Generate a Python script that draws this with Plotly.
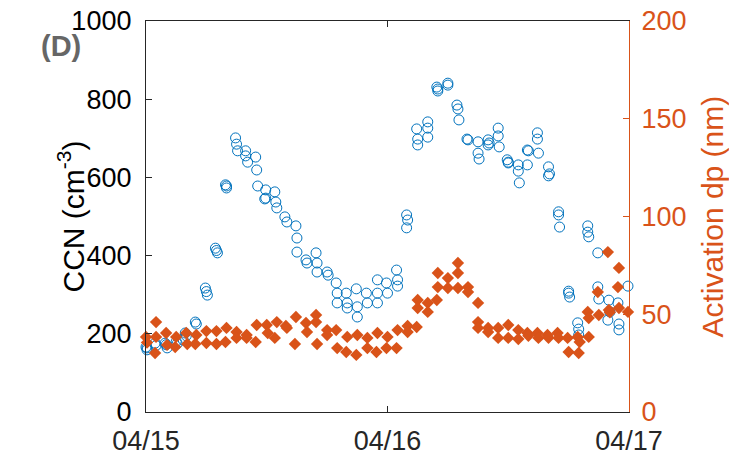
import pandas as pd
import plotly.graph_objects as go

start = pd.Timestamp("2021-04-15")

# CCN (cm-3) – hours after 04/15 00:00
ccn_hours = [0.0, 0.1, 0.1, 0.9, 1.0, 1.9, 2.0, 2.1, 3.0, 3.1, 3.7, 3.9, 4.0, 4.9, 5.0,
             5.9, 6.0, 6.1, 6.9, 7.0, 7.1, 7.9, 8.0, 8.0, 8.9, 9.0, 9.1, 9.9, 9.9, 10.1,
             10.9, 11.0, 11.1, 11.8, 11.9, 11.9, 12.8, 12.9, 13.0, 13.8, 14.0, 14.9, 15.0, 15.0,
             15.9, 16.0, 16.9, 17.0, 17.0, 18.0, 18.1, 18.9, 19.0, 19.0, 19.9, 20.0, 20.0,
             20.9, 21.0, 21.0, 21.9, 22.0, 23.0, 23.0, 23.0, 23.9, 24.0, 24.9, 25.0, 25.0,
             25.9, 25.9, 26.0, 26.9, 27.0, 27.0, 28.0, 28.0, 28.0, 28.9, 29.0, 29.0, 30.0, 30.0,
             30.9, 31.0, 31.1, 31.9, 32.0, 33.0, 33.0, 33.1, 34.0, 34.0, 34.1, 35.0, 35.0, 35.1,
             35.9, 36.0, 36.0, 37.0, 37.0, 37.1, 37.9, 37.9, 38.0, 38.9, 38.9, 39.0,
             40.0, 40.0, 40.1, 41.0, 41.0, 41.1, 42.0, 42.0, 42.1, 42.9, 43.0, 43.0,
             43.9, 43.9, 44.0, 44.9, 44.9, 45.0, 45.9, 46.0, 46.1, 46.9, 47.0, 47.0, 47.9]
ccn_values = [166, 159, 164, 176, 170, 176, 172, 164, 180, 175, 184, 202, 195, 230, 225,
              317, 308, 299, 419, 413, 407, 581, 578, 573, 701, 685, 668, 668, 655, 639,
              652, 619, 578, 545, 568, 547, 563, 537, 522, 499, 486, 476, 445, 409,
              389, 381, 407, 381, 358, 358, 350, 330, 304, 279, 304, 279, 266,
              315, 269, 243, 304, 279, 338, 304, 279, 330, 304, 363, 338, 322,
              504, 471, 491, 724, 698, 683, 742, 726, 703, 831, 821, 826, 841, 836,
              785, 775, 747, 698, 696, 691, 662, 647, 696, 683, 688, 726, 706, 678,
              645, 639, 637, 632, 616, 586, 632, 670, 668, 714, 698, 662,
              627, 604, 609, 512, 504, 473, 309, 304, 294, 228, 212, 197,
              476, 460, 448, 407, 320, 289, 235, 286, 256, 279, 225, 210, 322]

# Activation dp (nm)
dp_hours = [0.0, 0.1, 0.9, 1.0, 1.0, 2.0, 2.1, 2.9, 3.0, 4.0, 4.1, 4.9, 5.0, 6.0, 6.0,
            7.0, 7.0, 7.9, 8.0, 9.0, 9.0, 10.0, 10.0, 10.9, 11.0, 12.0, 12.1, 12.8, 13.0,
            13.9, 14.0, 14.8, 14.9, 15.9, 16.0, 16.9, 16.9, 17.0, 18.0, 18.0, 18.9, 19.0,
            19.9, 20.0, 20.9, 21.0, 22.0, 22.0, 22.9, 23.0, 23.9, 24.0, 24.9, 25.0, 26.0, 26.0,
            26.9, 27.0, 27.0, 28.0, 28.0, 28.9, 29.0, 29.0, 30.0, 30.0, 31.0, 31.0, 31.0,
            32.0, 32.0, 33.0, 33.0, 33.0, 34.0, 34.0, 35.0, 35.0, 36.0, 36.0, 37.0, 37.0,
            37.9, 38.0, 38.9, 39.0, 39.9, 40.0, 40.9, 41.0, 41.9, 42.0, 42.9, 43.0, 43.1,
            43.9, 44.0, 44.0, 44.9, 45.0, 45.9, 46.0, 46.1, 46.9, 47.0, 47.0, 47.9]
dp_values = [38.4, 35.5, 30.2, 46.0, 38.4, 40.4, 34.3, 33.2, 38.4, 40.4, 34.8, 34.8, 39.4, 41.4, 35.3,
             41.4, 34.8, 35.8, 43.0, 40.9, 37.9, 39.4, 37.9, 35.8, 44.5, 44.5, 40.4, 37.9, 46.0,
             44.0, 43.0, 34.8, 48.6, 45.5, 40.9, 49.6, 46.0, 34.8, 41.9, 39.4, 41.9, 32.7,
             30.7, 38.4, 29.2, 39.4, 37.9, 32.7, 30.7, 40.4, 32.7, 38.4, 32.7, 41.9, 44.0, 40.9,
             43.5, 57.3, 53.2, 55.8, 51.2, 57.3, 71.1, 63.9, 68.5, 63.4, 76.2, 71.1, 63.4,
             63.9, 61.4, 55.8, 46.0, 43.0, 43.0, 40.9, 43.0, 37.9, 44.5, 37.9, 41.9, 37.3,
             40.4, 39.0, 40.4, 37.9, 39.4, 38.0, 40.4, 37.9, 37.9, 30.7, 38.4, 30.2, 35.8,
             51.2, 48.1, 38.4, 61.4, 49.6, 81.8, 52.2, 51.0, 63.9, 53.2, 73.7, 51.2]

x_ticks = ["2021-04-15", "2021-04-16", "2021-04-17"]
x_ticktext = ["04/15", "04/16", "04/17"]

BLUE = "#0072BD"
ORANGE = "#D95319"
DARK = "#262626"
FONT = "Liberation Sans, Arial, sans-serif"

ccn_t = [start + pd.Timedelta(hours=h) for h in ccn_hours]
dp_t = [start + pd.Timedelta(hours=h) for h in dp_hours]

fig = go.Figure()
fig.add_trace(go.Scatter(
    x=ccn_t, y=ccn_values, mode="markers", yaxis="y",
    marker=dict(symbol="circle-open", size=10, color=BLUE, line=dict(width=1, color=BLUE)),
    showlegend=False, cliponaxis=False))
fig.add_trace(go.Scatter(
    x=dp_t, y=dp_values, mode="markers", yaxis="y2",
    marker=dict(symbol="diamond", size=9.5, color=ORANGE, line=dict(width=0)),
    showlegend=False, cliponaxis=False))

fig.update_layout(
    width=729, height=456,
    margin=dict(l=146, r=100, t=21, b=44, autoexpand=False),
    paper_bgcolor="white", plot_bgcolor="white",
    font=dict(family=FONT, size=27, color=DARK),
    xaxis=dict(
        type="date", range=[x_ticks[0], x_ticks[-1]],
        tickvals=x_ticks, ticktext=x_ticktext, automargin=False,
        showgrid=False, zeroline=False,
        showline=True, linecolor=DARK, linewidth=1.3, mirror="ticks",
        ticks="inside", ticklen=6, tickcolor=DARK, tickwidth=1,
        tickfont=dict(size=27, color=DARK), ticklabelstandoff=4,
    ),
    yaxis=dict(
        range=[0, 1000], tickvals=[0, 200, 400, 600, 800, 1000], automargin=False,
        showgrid=False, zeroline=False,
        showline=True, linecolor=DARK, linewidth=1.3,
        ticks="inside", ticklen=6, tickcolor=DARK, tickwidth=1,
        tickfont=dict(size=27, color="#000000"), ticklabelstandoff=8,
    ),
    yaxis2=dict(
        range=[0, 200], tickvals=[0, 50, 100, 150, 200], automargin=False,
        overlaying="y", side="right", anchor="x",
        showgrid=False, zeroline=False,
        showline=True, linecolor=ORANGE, linewidth=1.3,
        ticks="inside", ticklen=6, tickcolor=ORANGE, tickwidth=1,
        tickfont=dict(size=27, color=ORANGE), ticklabelstandoff=6,
    ),
    annotations=[
        dict(text="CCN (cm<sup>-3</sup>)", xref="paper", yref="paper",
             x=(71 - 146) / 483, y=0.5, xanchor="center", yanchor="middle",
             textangle=-90, showarrow=False, font=dict(size=30, color="#000000")),
        dict(text="Activation dp (nm)", xref="paper", yref="paper",
             x=(712 - 146) / 483, y=0.5, xanchor="center", yanchor="middle",
             textangle=-90, showarrow=False, font=dict(size=30, color=ORANGE)),
        dict(text="<b>(D)</b>", xref="paper", yref="paper",
             x=(61 - 146) / 483, y=(412 - 46) / 391, xanchor="center", yanchor="middle",
             showarrow=False, font=dict(size=29, color="#666666")),
    ],
)

fig.write_html("out.html")
